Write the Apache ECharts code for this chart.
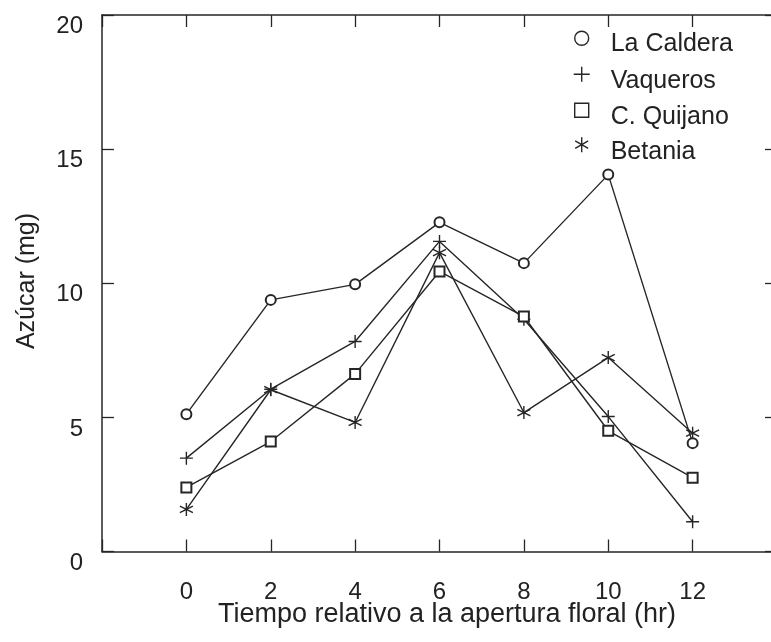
<!DOCTYPE html>
<html>
<head>
<meta charset="utf-8">
<script src="https://cdn.jsdelivr.net/npm/echarts@6/dist/echarts.min.js"></script>
<style>
html,body{margin:0;padding:0;background:#fff;}
#chart{width:771px;height:642px;}
</style>
</head>
<body>
<div id="chart"></div>
<script>
const hours = [0, 2, 4, 6, 8, 10, 12];
const seriesNames = ['La Caldera', 'Vaqueros', 'C. Quijano', 'Betania'];
const laCaldera = [5.12, 9.38, 9.96, 12.27, 10.75, 14.05, 4.04];
const vaqueros  = [3.48, 6.05, 7.83, 11.56, 8.66, 5.03, 1.11];
const cQuijano  = [2.39, 4.10, 6.62, 10.44, 8.76, 4.50, 2.75];
const betania   = [1.57, 6.03, 4.81, 11.14, 5.18, 7.23, 4.41];
const yTicks = [0, 5, 10, 15, 20];
const xTickLabels = ['0', '2', '4', '6', '8', '10', '12'];
const xTitle = 'Tiempo relativo a la apertura floral (hr)';
const yTitle = 'Azúcar (mg)';

const INK = '#262626';
const FONT = '"Liberation Sans", Arial, sans-serif';
const PLUS = 'path://M6,0L6,12M0,6L12,6';
const STAR = 'path://M5,0L5,10M0.67,2.5L9.33,7.5M0.67,7.5L9.33,2.5';
const symbols = ['emptyCircle', PLUS, 'emptyRect', STAR];
const symbolSizes = [10, 13, 10, 13];
const values = [laCaldera, vaqueros, cQuijano, betania];

// legend icons: visible mark in the upper part of a 16x30 box, so the label sits a bit lower
const legendIcons = [
  'path://M15,9A7,7,0,1,1,1,9A7,7,0,1,1,15,9ZM0,0M16,30',
  'path://M8,1L8,16M0,8.5L16,8.5M0,0M16,30',
  'path://M1,1L15,1L15,15L1,15ZM0,0M16,30',
  'path://M8,0L8,15M1.5,3.75L14.5,11.25M1.5,11.25L14.5,3.75M0,0M16,30'
];
const legendTextCenterY = [43.5, 80, 116.5, 151.5];

const chart = echarts.init(document.getElementById('chart'), null, {renderer: 'canvas'});

const series = seriesNames.map((name, i) => ({
  name: name,
  type: 'line',
  data: hours.map((h, k) => [h, values[i][k]]),
  symbol: symbols[i],
  symbolSize: symbolSizes[i],
  showSymbol: true,
  lineStyle: {color: INK, width: 1.4},
  itemStyle: {color: INK, borderColor: INK, borderWidth: 1.4},
  emphasis: {disabled: true},
  animation: false,
  z: i === 0 ? 3 : 2
}));

const legends = seriesNames.map((name, i) => ({
  show: true,
  data: [{name: name, icon: legendIcons[i]}],
  left: 573,
  top: legendTextCenterY[i] - 15,
  orient: 'vertical',
  padding: 0,
  itemWidth: 16,
  itemHeight: 30,
  selectedMode: false,
  itemStyle: {color: 'transparent', borderColor: INK, borderWidth: 1.4},
  textStyle: {
    fontFamily: FONT, fontSize: 25, color: '#222',
    padding: [0, 0, 0, 16]
  }
}));

const axisLineStyle = {color: INK, width: 1.5};
const tickStyle = {color: INK, width: 1.3};

const option = {
  backgroundColor: '#ffffff',
  animation: false,
  grid: {left: 102, top: 15, width: 675, height: 536.5, containLabel: false, outerBoundsMode: 'none'},
  legend: legends,
  xAxis: [{
    type: 'value', position: 'bottom', min: -2, max: 14, interval: 2,
    axisLine: {show: true, onZero: false, lineStyle: axisLineStyle},
    axisTick: {show: true, inside: true, length: 12, lineStyle: tickStyle},
    splitLine: {show: false},
    axisLabel: {
      show: true, margin: 29, fontFamily: FONT, fontSize: 24, color: '#222',
      formatter: v => (xTickLabels.indexOf(String(v)) >= 0 ? String(v) : '')
    }
  }, {
    type: 'value', position: 'top', min: -2, max: 14, interval: 2,
    axisLine: {show: true, onZero: false, lineStyle: axisLineStyle},
    axisTick: {show: true, inside: true, length: 12, lineStyle: tickStyle},
    splitLine: {show: false},
    axisLabel: {show: false}
  }],
  yAxis: [{
    type: 'value', position: 'left', min: yTicks[0], max: yTicks[yTicks.length - 1], interval: 5,
    axisLine: {show: true, onZero: false, lineStyle: axisLineStyle},
    axisTick: {show: true, inside: true, length: 12, lineStyle: tickStyle},
    splitLine: {show: false},
    axisLabel: {
      show: true, margin: 19, fontFamily: FONT, fontSize: 24, color: '#222',
      verticalAlign: 'top', lineHeight: 23
    }
  }, {
    type: 'value', position: 'right', min: 0, max: 20, interval: 5,
    axisLine: {show: true, onZero: false, lineStyle: axisLineStyle},
    axisTick: {show: true, inside: true, length: 12, lineStyle: tickStyle},
    splitLine: {show: false},
    axisLabel: {show: false}
  }],
  graphic: [{
    type: 'text',
    x: 447, y: 615,
    style: {text: xTitle, fontFamily: FONT, fontSize: 27, fill: '#222', align: 'center', verticalAlign: 'middle'}
  }, {
    type: 'text',
    x: 27, y: 281,
    rotation: Math.PI / 2,
    style: {text: yTitle, fontFamily: FONT, fontSize: 25, fill: '#222', align: 'center', verticalAlign: 'middle'}
  }],
  series: series
};
chart.setOption(option);
</script>
</body>
</html>
